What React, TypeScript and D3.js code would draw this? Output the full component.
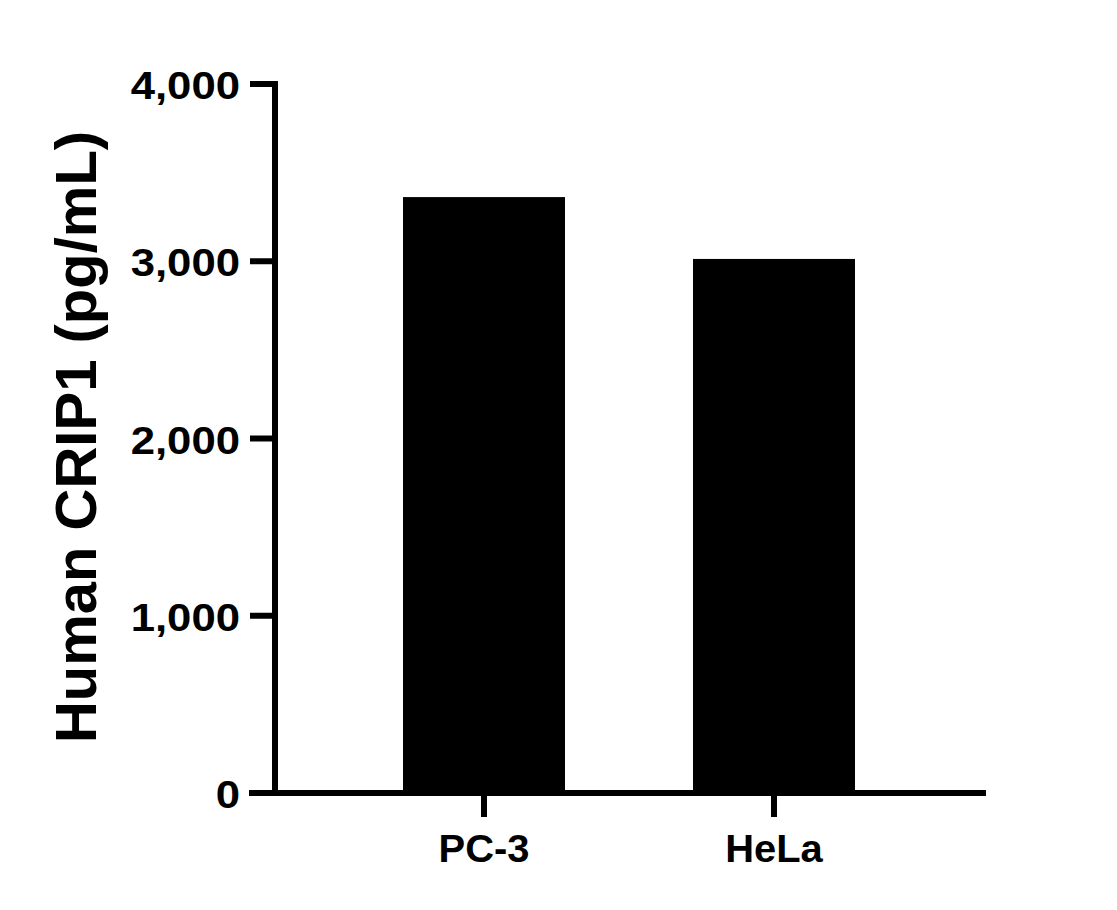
import React from "react";
import * as d3 from "d3";

const categories: string[] = ["PC-3", "HeLa"];
const values: number[] = [3362, 3013];
const yTicks: number[] = [0, 1000, 2000, 3000, 4000];
const yTitle = "Human CRIP1 (pg/mL)";

const W = 1117;
const H = 910;
const FONT = "'Liberation Sans', Arial, Helvetica, sans-serif";

export default function App() {
  const y = d3.scaleLinear().domain([0, 4000]).range([793, 84]);
  const x = d3
    .scaleBand<string>()
    .domain(categories)
    .range([339, 919])
    .paddingInner(0.4414)
    .paddingOuter(0.2207);
  const axisX = 275;
  const axisY = y(0);
  const fmt = d3.format(",");
  const sw = 6;

  return (
    <div style={{ position: "absolute", left: 0, top: 0, background: "#fff" }}>
      <svg width={W} height={H} viewBox={`0 0 ${W} ${H}`} style={{ display: "block" }}>
        <rect x={0} y={0} width={W} height={H} fill="#fff" />
        {categories.map((c, i) => (
          <rect
            key={c}
            x={x(c)}
            y={y(values[i])}
            width={x.bandwidth()}
            height={axisY - y(values[i])}
            fill="#000"
          />
        ))}
        {/* y axis */}
        <line x1={axisX} x2={axisX} y1={y(4000) - 3} y2={axisY + 3} stroke="#000" strokeWidth={sw} />
        {yTicks.map((t) => (
          <g key={t}>
            <line x1={250} x2={axisX} y1={y(t)} y2={y(t)} stroke="#000" strokeWidth={sw} />
            <text
              transform={`translate(240, ${y(t) + 15}) scale(1.15, 1)`}
              textAnchor="end"
              fontFamily={FONT}
              fontWeight="bold"
              fontSize={38}
              fill="#000"
            >
              {fmt(t)}
            </text>
          </g>
        ))}
        {/* x axis */}
        <line x1={249} x2={986} y1={axisY} y2={axisY} stroke="#000" strokeWidth={sw} />
        {categories.map((c) => {
          const cx = (x(c) as number) + x.bandwidth() / 2;
          return (
            <g key={c}>
              <line x1={cx} x2={cx} y1={axisY} y2={817} stroke="#000" strokeWidth={sw} />
              <text
                transform={`translate(${cx}, 862) scale(1.05, 1)`}
                textAnchor="middle"
                fontFamily={FONT}
                fontWeight="bold"
                fontSize={38}
                fill="#000"
              >
                {c}
              </text>
            </g>
          );
        })}
        <text
          transform={`translate(96, 437) rotate(-90)`}
          textAnchor="middle"
          fontFamily={FONT}
          fontWeight="bold"
          fontSize={58}
          fill="#000"
        >
          {yTitle}
        </text>
      </svg>
    </div>
  );
}
